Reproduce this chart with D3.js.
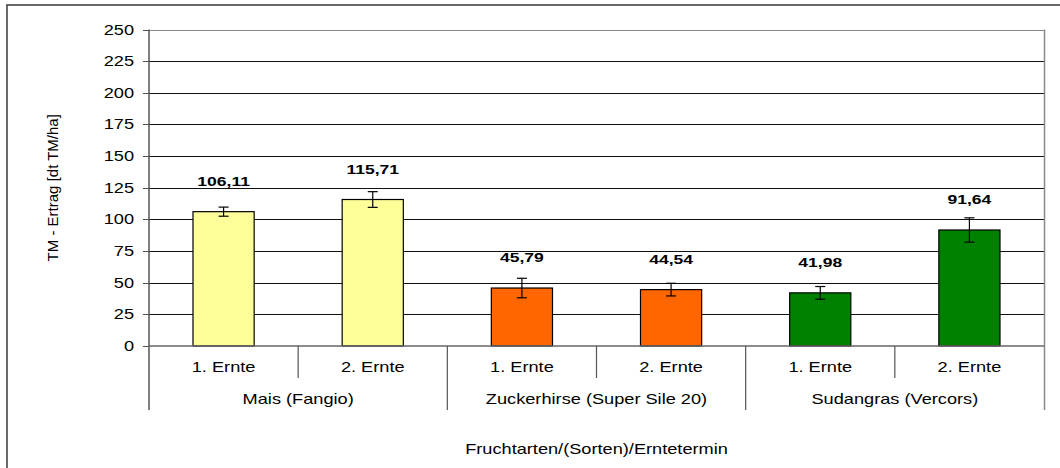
<!DOCTYPE html>
<html>
<head>
<meta charset="utf-8">
<script src="https://cdn.jsdelivr.net/npm/d3@7/dist/d3.min.js"></script>
<style>
  body { margin: 0; background: #fff; }
  svg { display: block; font-family: "Liberation Sans", Arial, sans-serif; }
</style>
</head>
<body>
<svg id="chart" width="1060" height="468"></svg>
<script>
// data
const groups = ["Mais (Fangio)", "Zuckerhirse (Super Sile 20)", "Sudangras (Vercors)"];
const harvests = ["1. Ernte", "2. Ernte"];
const yields = [106.11, 115.71, 45.79, 44.54, 41.98, 91.64];
const errors = [3.6, 6.2, 7.7, 5.0, 5.0, 9.6];
const groupColors = ["#FFFF99", "#FF6600", "#008000"];
const yTicks = [0, 25, 50, 75, 100, 125, 150, 175, 200, 225, 250];

const svg = d3.select("#chart");
const plot = { left: 149, right: 1044, top: 29.5, bottom: 346 };
const sx = 1.3; // text in the reference is drawn wide

const de = d3.formatLocale({ decimal: ",", thousands: ".", grouping: [3], currency: ["", " €"] });
const fmt = de.format(".2f");

// one row per bar
const rows = [];
groups.forEach((g, gi) => {
    harvests.forEach((h, hi) => {
        const i = gi * harvests.length + hi;
        rows.push({ key: g + "|" + h, group: g, gi, harvest: h, value: yields[i], err: errors[i] });
    });
});

const x = d3.scaleBand()
    .domain(rows.map(d => d.key))
    .range([plot.left, plot.right])
    .paddingInner(0.59)
    .paddingOuter(0.295);
const slot = (plot.right - plot.left) / rows.length;
const y = d3.scaleLinear().domain([0, 250]).range([plot.bottom, plot.top]);

// stretched text helper
function wideText(parent, tx, ty, str, anchor, size, weight) {
    return parent.append("text")
        .attr("transform", `translate(${tx},${ty}) scale(${sx},1)`)
        .attr("text-anchor", anchor)
        .attr("font-size", size)
        .attr("font-weight", weight || "normal")
        .attr("fill", "#000")
        .text(str);
}

// outer frame
svg.append("rect")
    .attr("x", 7).attr("y", 5).attr("width", 1100).attr("height", 500)
    .attr("fill", "none").attr("stroke", "#444").attr("stroke-width", 1.6);

// gridlines
svg.append("g")
    .selectAll("line")
    .data(yTicks.filter(t => t > 0))
    .join("line")
    .attr("x1", plot.left).attr("x2", plot.right)
    .attr("y1", d => Math.round(y(d)) + 0.5).attr("y2", d => Math.round(y(d)) + 0.5)
    .attr("stroke", d => d === 250 ? "#888" : "#111").attr("stroke-width", 1);

// plot border right side
svg.append("line")
    .attr("x1", plot.right + 0.5).attr("x2", plot.right + 0.5)
    .attr("y1", plot.top).attr("y2", 410)
    .attr("stroke", "#888").attr("stroke-width", 1.5);

// y axis
const yAxis = svg.append("g");
yAxis.append("line")
    .attr("x1", plot.left).attr("x2", plot.left)
    .attr("y1", plot.top).attr("y2", 410)
    .attr("stroke", "#555").attr("stroke-width", 1.5);
yAxis.selectAll("line.tick")
    .data(yTicks)
    .join("line")
    .attr("class", "tick")
    .attr("x1", plot.left - 6).attr("x2", plot.left)
    .attr("y1", d => Math.round(y(d)) + 0.5).attr("y2", d => Math.round(y(d)) + 0.5)
    .attr("stroke", "#555");
yTicks.forEach(t => wideText(yAxis, 134, y(t) + 5, t, "end", 14));

svg.append("text")
    .attr("transform", `translate(58,${(plot.top + plot.bottom) / 2}) rotate(-90)`)
    .attr("text-anchor", "middle")
    .attr("font-size", 15)
    .text("TM - Ertrag [dt TM/ha]");

// bars
svg.append("g")
    .selectAll("rect")
    .data(rows)
    .join("rect")
    .attr("x", d => x(d.key))
    .attr("y", d => y(d.value))
    .attr("width", x.bandwidth())
    .attr("height", d => y(0) - y(d.value))
    .attr("fill", d => groupColors[d.gi])
    .attr("stroke", "#000").attr("stroke-width", 1.2);

// error bars
const eb = svg.append("g").attr("stroke", "#000").attr("stroke-width", 1.2);
rows.forEach(d => {
    const cx = x(d.key) + x.bandwidth() / 2;
    const y1 = y(d.value + d.err), y2 = y(d.value - d.err);
    eb.append("line").attr("x1", cx).attr("x2", cx).attr("y1", y1).attr("y2", y2);
    eb.append("line").attr("x1", cx - 5).attr("x2", cx + 5).attr("y1", y1).attr("y2", y1);
    eb.append("line").attr("x1", cx - 5).attr("x2", cx + 5).attr("y1", y2).attr("y2", y2);
});

// value labels
rows.forEach(d => {
    wideText(svg, x(d.key) + x.bandwidth() / 2, y(d.value) - 26, fmt(d.value), "middle", 13.5, "bold");
});

// x axis line
svg.append("line")
    .attr("x1", plot.left).attr("x2", plot.right)
    .attr("y1", plot.bottom).attr("y2", plot.bottom)
    .attr("stroke", "#666").attr("stroke-width", 1.5);

// category separators
const sep = svg.append("g").attr("stroke", "#555").attr("stroke-width", 1.2);
rows.forEach((d, i) => {
    if (i === 0) return;
    const sxPos = plot.left + slot * i;
    const isGroupEdge = i % harvests.length === 0;
    sep.append("line")
        .attr("x1", sxPos).attr("x2", sxPos)
        .attr("y1", plot.bottom).attr("y2", isGroupEdge ? 410 : 378);
});

// harvest labels
rows.forEach(d => {
    wideText(svg, x(d.key) + x.bandwidth() / 2, 371.5, d.harvest, "middle", 14);
});

// group labels
groups.forEach((g, gi) => {
    const cx = plot.left + slot * harvests.length * (gi + 0.5);
    wideText(svg, cx, 404, g, "middle", 14);
});

// x title
wideText(svg, (plot.left + plot.right) / 2, 454, "Fruchtarten/(Sorten)/Erntetermin", "middle", 14);
</script>
</body>
</html>
